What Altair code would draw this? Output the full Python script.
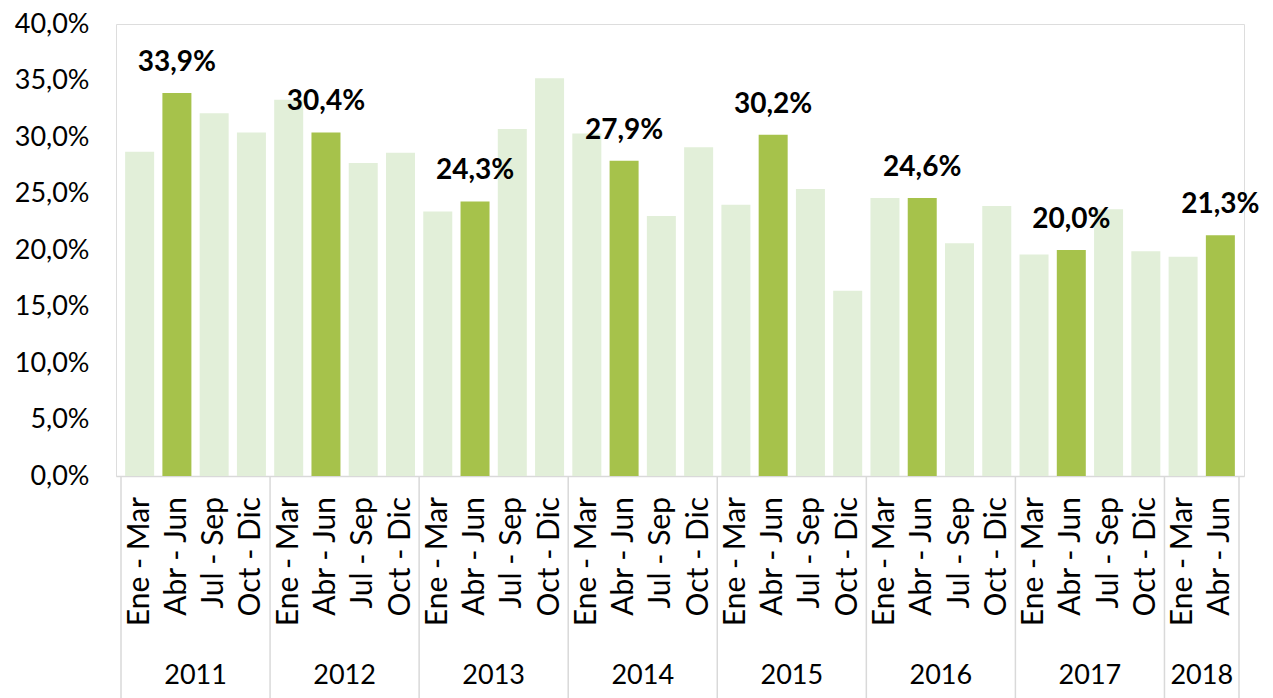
import altair as alt
import pandas as pd

quarters = ["Ene - Mar", "Abr - Jun", "Jul - Sep", "Oct - Dic"]
years = ["2011", "2012", "2013", "2014", "2015", "2016", "2017", "2018"]
quarters_per_year = [4, 4, 4, 4, 4, 4, 4, 2]
values = [
    28.7, 33.9, 32.1, 30.4,
    33.3, 30.4, 27.7, 28.6,
    23.4, 24.3, 30.7, 35.2,
    30.3, 27.9, 23.0, 29.1,
    24.0, 30.2, 25.4, 16.4,
    24.6, 24.6, 20.6, 23.9,
    19.6, 20.0, 23.6, 19.9,
    19.4, 21.3,
]
highlight_quarter = "Abr - Jun"

LIGHT = "#E2EFD9"
DARK = "#A6C24B"
GRID = "#D9D9D9"
FONT = "Lato"
FS = 28

rows = []
i = 0
for y, n in zip(years, quarters_per_year):
    for q in quarters[:n]:
        rows.append({"i": i, "year": y, "quarter": q, "value": values[i] / 100,
                     "hl": q == highlight_quarter})
        i += 1
df = pd.DataFrame(rows)

yr = df.groupby("year", as_index=False).agg(center=("i", "mean"), start=("i", "min"), end=("i", "max"))
bounds = sorted(set((yr["start"] - 0.5).tolist() + (yr["end"] + 0.5).tolist()))
bdf = pd.DataFrame({"b": bounds})

W, H = 1128, 452
n_total = len(df)

xscale = alt.Scale(domain=[-0.5, n_total - 0.5], nice=False, zero=False)
yscale = alt.Scale(domain=[0, 0.4], nice=False)

base = alt.Chart(df)

bars = base.mark_bar(width=29).encode(
    x=alt.X("i:Q", scale=xscale, title=None,
            axis=alt.Axis(labels=False, ticks=False, grid=False, domainColor=GRID,
                          domainWidth=1.5, title=None)),
    y=alt.Y("value:Q", scale=yscale, title=None,
            axis=alt.Axis(values=[k * 0.05 for k in range(9)],
                          labelExpr="replace(format(datum.value*100,'.1f'),'.',',')+'%'",
                          grid=False, domain=False, ticks=False, labelPadding=27,
                          labelFontSize=27, labelFont=FONT, labelColor="#000000",
                          labelOverlap=False, labelFlush=False, title=None)),
    color=alt.Color("hl:N", scale=alt.Scale(domain=[False, True], range=[LIGHT, DARK]), legend=None),
)

labels = base.transform_filter(alt.datum.hl).transform_calculate(
    lab="replace(format(datum.value*100,'.1f'),'.',',')+'%'"
).mark_text(fontSize=FS, fontWeight="bold", font=FONT, baseline="bottom", dy=-16, color="#000000").encode(
    x=alt.X("i:Q", scale=xscale, title=None),
    y=alt.Y("value:Q", scale=yscale, title=None),
    text="lab:N",
)

qlabels = base.mark_text(fontSize=30, font=FONT, color="#000000", angle=270,
                         align="right", baseline="middle").encode(
    x=alt.X("i:Q", scale=xscale, title=None),
    y=alt.value(H + 21),
    text="quarter:N",
)

seps = alt.Chart(bdf).mark_rule(color=GRID, strokeWidth=1.5).encode(
    x=alt.X("b:Q", scale=xscale, title=None),
    y=alt.value(H),
    y2=alt.value(H + 222),
)

year_text = alt.Chart(yr).mark_text(fontSize=FS - 1, font=FONT, color="#000000", baseline="middle").encode(
    x=alt.X("center:Q", scale=xscale, title=None),
    y=alt.value(H + 200),
    text="year:N",
)

chart = alt.layer(bars, labels, qlabels, seps, year_text).properties(
    width=W, height=H,
    autosize=alt.AutoSizeParams(type="none"),
    padding={"left": 108, "top": 16, "right": 20, "bottom": 222},
).configure_view(strokeWidth=0).configure(background="white")

chart.save("out.html", embed_options={"renderer": "svg", "actions": False})
